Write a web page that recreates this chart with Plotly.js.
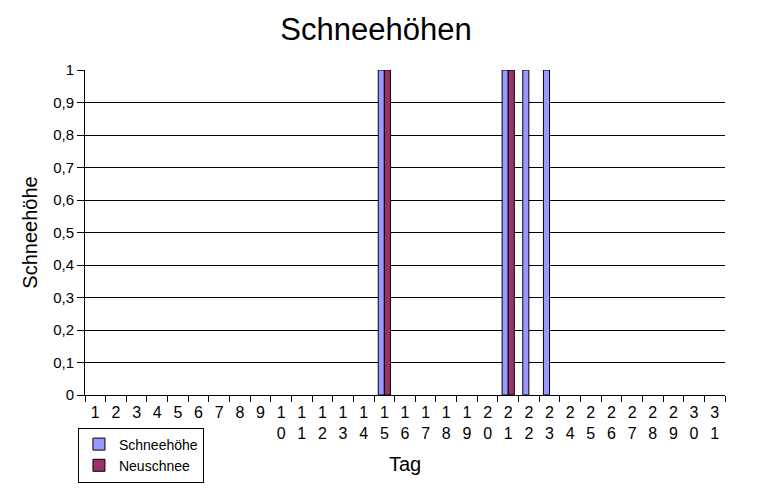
<!DOCTYPE html>
<html>
<head>
<meta charset="utf-8">
<script src="https://cdn.plot.ly/plotly-3.0.1.min.js"></script>
<style>html,body{margin:0;padding:0;background:#fff;}#chart{width:758px;height:494px;}</style>
</head>
<body>
<div id="chart"></div>
<script>
const days = ["1","2","3","4","5","6","7","8","9","10","11","12","13","14","15","16","17","18","19","20","21","22","23","24","25","26","27","28","29","30","31"];
const dayLabels = days.map(d => d.split("").join("<br>"));
const schneehoehe = [null,null,null,null,null,null,null,null,null,null,null,null,null,null,1,null,null,null,null,null,1,1,1,null,null,null,null,null,null,null,null];
const neuschnee   = [null,null,null,null,null,null,null,null,null,null,null,null,null,null,1,null,null,null,null,null,1,null,null,null,null,null,null,null,null,null,null];
const yTickVals = [0,0.1,0.2,0.3,0.4,0.5,0.6,0.7,0.8,0.9,1];
const yTickText = ["0","0,1","0,2","0,3","0,4","0,5","0,6","0,7","0,8","0,9","1"];

const font = "Liberation Sans, Arial, sans-serif";
const traces = [
  {type:"bar", name:"Schneehöhe", x:days, y:schneehoehe,
   marker:{color:"#9999ff", line:{color:"#000", width:1}}},
  {type:"bar", name:"Neuschnee", x:days, y:neuschnee,
   marker:{color:"#993366", line:{color:"#000", width:1}}}
];
const layout = {
  width:758, height:494,
  margin:{l:85, r:33, t:70, b:99},
  paper_bgcolor:"#fff", plot_bgcolor:"#fff",
  font:{family:font, color:"#000", size:15},
  title:{text:"Schneehöhen", font:{size:31, family:font}, x:0.496, xanchor:"center", y:0.94, yanchor:"middle"},
  barmode:"group", bargap:0.41, bargroupgap:0,
  showlegend:true,
  legend:{x:-0.011, xanchor:"left", y:-0.10, yanchor:"top", bordercolor:"#000", borderwidth:1,
          bgcolor:"#fff", font:{size:14, family:font}, traceorder:"normal", tracegroupgap:0},
  xaxis:{type:"category", tickmode:"array", tickvals:days, ticktext:dayLabels,
         tickson:"boundaries", ticks:"outside", ticklen:6, tickcolor:"#000",
         ticklabelstandoff:3,
         showline:true, linecolor:"#000", linewidth:1, showgrid:false, zeroline:false,
         tickfont:{size:16, family:font},
         title:{text:"Tag", font:{size:20, family:font}, standoff:15}, automargin:false},
  yaxis:{range:[0,1], tickmode:"array", tickvals:yTickVals, ticktext:yTickText,
         ticks:"outside", ticklen:7, tickcolor:"#000",
         showline:true, linecolor:"#000", linewidth:1,
         showgrid:true, gridcolor:"#000", gridwidth:1, zeroline:false,
         tickfont:{size:15, family:font},
         title:{text:"Schneehöhe", font:{size:20, family:font}, standoff:10}, automargin:false}
};
Plotly.newPlot("chart", traces, layout, {displayModeBar:false, staticPlot:true});
</script>
</body>
</html>
